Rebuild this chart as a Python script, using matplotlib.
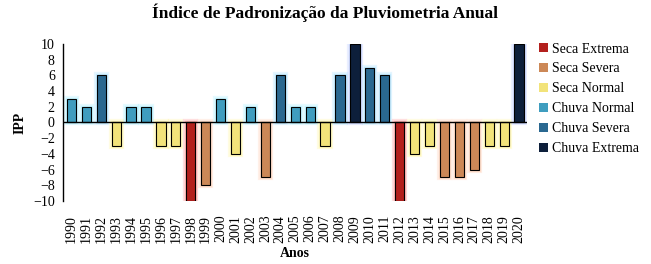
import matplotlib.pyplot as plt
import matplotlib.patheffects as pe
from matplotlib.patches import Patch

plt.rcParams["font.family"] = ["Liberation Serif", "DejaVu Serif"]

anos = list(range(1990, 2021))
ipp = [3, 2, 6, -3, 2, 2, -3, -3, -10, -8,
       3, -4, 2, -7, 6, 2, 2, -3, 6, 10,
       7, 6, -10, -4, -3, -7, -7, -6, -3, -3,
       10]
classes = ["Seca Extrema", "Seca Severa", "Seca Normal",
           "Chuva Normal", "Chuva Severa", "Chuva Extrema"]
cores = {
    "Seca Extrema": "#b3201d",
    "Seca Severa": "#cc8857",
    "Seca Normal": "#f2e37a",
    "Chuva Normal": "#3f9dbf",
    "Chuva Severa": "#2a6890",
    "Chuva Extrema": "#0d1f3b",
}
brilho = {
    "Seca Extrema": "#ff5050",
    "Seca Severa": "#ffb080",
    "Seca Normal": "#fff060",
    "Chuva Normal": "#70e8ff",
    "Chuva Severa": "#70d0ff",
    "Chuva Extrema": "#90a8ff",
}


def classe(v):
    if v <= -9:
        return "Seca Extrema"
    if v <= -5:
        return "Seca Severa"
    if v < 0:
        return "Seca Normal"
    if v < 5:
        return "Chuva Normal"
    if v < 9:
        return "Chuva Severa"
    return "Chuva Extrema"


fig = plt.figure(figsize=(6.51, 2.64), dpi=100)
ax = fig.add_axes([0.097, 0.239, 0.713, 0.594])

x = list(range(len(anos)))
for i, v in zip(x, ipp):
    c = classe(v)
    b = ax.bar(i, v, width=0.62, color=cores[c], edgecolor="black",
               linewidth=0.8, zorder=2)
    for p in b:
        p.set_path_effects([
            pe.Stroke(linewidth=4.5, foreground=brilho[c], alpha=0.18),
            pe.Stroke(linewidth=2.5, foreground=brilho[c], alpha=0.28),
            pe.Normal(),
        ])

ax.axhline(0, color="black", linewidth=1.0, zorder=3)
ax.set_xlim(-0.55, len(anos) - 0.45)
ax.set_ylim(-10, 10)
ax.set_yticks(range(-10, 11, 2))
ax.set_xticks(x)
ax.set_xticklabels([str(a) for a in anos], rotation=90, fontsize=10)
ax.tick_params(axis="both", length=0)
ax.tick_params(axis="x", pad=10)
ax.tick_params(axis="y", labelsize=10, pad=6)
for s in ["top", "right", "bottom"]:
    ax.spines[s].set_visible(False)
ax.spines["left"].set_linewidth(1.0)

ax.set_ylabel("IPP", fontsize=10, fontweight="bold", labelpad=5)
ax.set_xlabel("Anos", fontsize=10, fontweight="bold", labelpad=3)
fig.suptitle("Índice de Padronização da Pluviometria Anual", fontsize=12.5,
             fontweight="bold", x=0.5, y=0.985)

handles = [Patch(facecolor=cores[c], edgecolor="none") for c in classes]
fig.legend(handles, classes, loc="upper left", bbox_to_anchor=(0.82, 0.86),
           frameon=False, fontsize=10, handlelength=0.6, handleheight=0.6,
           handletextpad=0.3, labelspacing=0.5, borderaxespad=0)

fig.savefig("out.png", dpi=100)
